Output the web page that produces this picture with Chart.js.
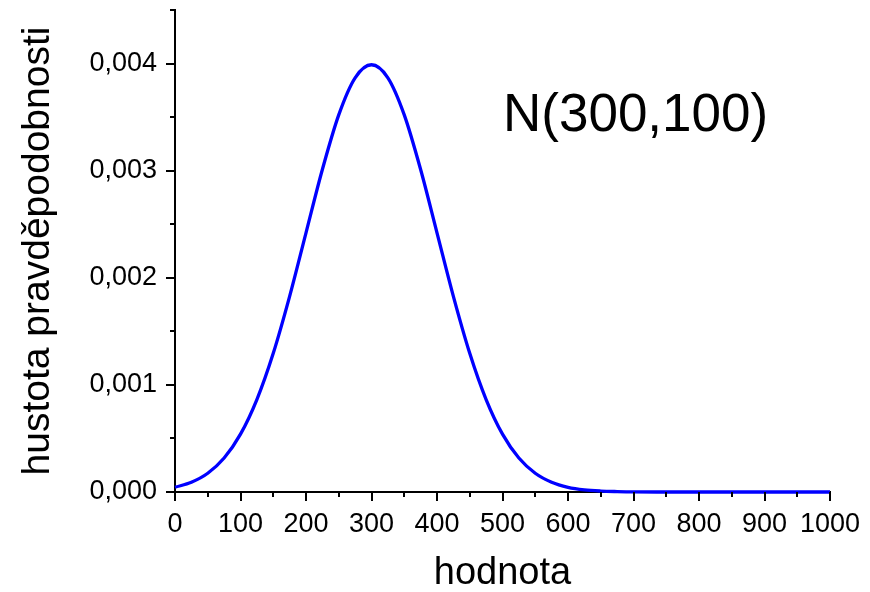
<!DOCTYPE html>
<html>
<head>
<meta charset="utf-8">
<script src="https://cdn.jsdelivr.net/npm/chart.js@4/dist/chart.umd.min.js"></script>
<style>
  body { margin: 0; background: #fff; }
  canvas { display: block; }
</style>
</head>
<body>
<canvas id="hustotaChart" width="870" height="592"></canvas>
<script>
// hodnoty na ose x a odečtená hustota N(300,100)
const hodnoty = [0, 25, 50, 75, 100, 125, 150, 175, 200, 225, 250, 275, 300,
  325, 350, 375, 400, 425, 450, 475, 500, 525, 550, 575, 600, 625, 650, 675, 700,
  750, 800, 850, 900, 950, 1000];
const hustota = [0.000044, 0.000091, 0.000175, 0.000317, 0.000540, 0.000863, 0.001295,
  0.001827, 0.002420, 0.003011, 0.003521, 0.003867, 0.003989,
  0.003867, 0.003521, 0.003011, 0.002420, 0.001827, 0.001295, 0.000863, 0.000540,
  0.000317, 0.000175, 0.000091, 0.000044, 0.000020, 0.000009, 0.000004, 0.000001,
  0, 0, 0, 0, 0, 0];

// osy: hlavní a vedlejší dílky
const xMin = 0, xMax = 1000, xStep = 50;
const yMin = 0, yMax = 0.0045, yStep = 0.0005;

const font = "'Liberation Sans', Arial, sans-serif";

// dílky kreslíme sami (hlavní delší, vedlejší kratší)
const tickPlugin = {
  id: "tickMarks",
  afterDraw(chart) {
    const c = chart.ctx;
    c.save();
    c.strokeStyle = "#000";
    c.lineWidth = 2;
    const xs = chart.scales.x, ys = chart.scales.y;
    xs.ticks.forEach(t => {
      const major = Math.round(t.value / xStep) % 2 === 0;
      const px = Math.round(xs.getPixelForValue(t.value));
      c.beginPath();
      c.moveTo(px, xs.top);
      c.lineTo(px, xs.top + (major ? 9 : 5));
      c.stroke();
    });
    ys.ticks.forEach(t => {
      const major = Math.round(t.value / yStep) % 2 === 0;
      const py = Math.round(ys.getPixelForValue(t.value));
      c.beginPath();
      c.moveTo(ys.right, py);
      c.lineTo(ys.right - (major ? 9 : 5), py);
      c.stroke();
    });
    // popisek rozdělení
    c.fillStyle = "#000";
    c.font = "53px " + font;
    c.textBaseline = "alphabetic";
    c.textAlign = "left";
    c.fillText("N(300,100)", 503, 131);
    c.restore();
  },
};

const ctx = document.getElementById("hustotaChart").getContext("2d");

new Chart(ctx, {
  type: "line",
  data: {
    datasets: [{
      data: hodnoty.map((x, i) => ({ x: x, y: hustota[i] })),
      borderColor: "#0000ff",
      borderWidth: 3.3,
      pointRadius: 0,
      cubicInterpolationMode: "monotone",
      fill: false,
      clip: false,
    }],
  },
  options: {
    responsive: false,
    animation: false,
    layout: { padding: { left: 0, top: 10, right: 40, bottom: 0 } },
    plugins: { legend: { display: false }, tooltip: { enabled: false } },
    scales: {
      x: {
        type: "linear",
        min: xMin,
        max: xMax,
        afterFit: s => { s.height = 100; s.paddingLeft = 0; s.paddingRight = 0; },
        grid: { drawOnChartArea: false, drawTicks: true, tickLength: 9, tickColor: "transparent" },
        border: { display: true, color: "#000", width: 2 },
        ticks: {
          stepSize: xStep,
          autoSkip: false,
          maxRotation: 0,
          padding: 7,
          color: "#000",
          font: { family: font, size: 27 },
          callback: v => (Math.round(v / xStep) % 2 === 0 ? String(v) : ""),
        },
        title: {
          display: true,
          text: "hodnota",
          color: "#000",
          font: { family: font, size: 38, lineHeight: 1 },
          padding: { top: 0, bottom: -1 },
        },
      },
      y: {
        type: "linear",
        min: yMin,
        max: yMax,
        afterFit: s => { s.width = 175; s.paddingTop = 0; s.paddingBottom = 0; },
        grid: { drawOnChartArea: false, drawTicks: true, tickLength: 9, tickColor: "transparent" },
        border: { display: true, color: "#000", width: 2 },
        ticks: {
          stepSize: yStep,
          autoSkip: false,
          padding: 9,
          color: "#000",
          font: { family: font, size: 27 },
          callback: v => (Math.round(v / yStep) % 2 === 0 ? v.toFixed(3).replace(".", ",") : ""),
        },
        title: {
          display: true,
          text: "hustota pravděpodobnosti",
          color: "#000",
          font: { family: font, size: 39, lineHeight: 1 },
          padding: { top: 19, bottom: 0 },
        },
      },
    },
  },
  plugins: [tickPlugin],
});
</script>
</body>
</html>
